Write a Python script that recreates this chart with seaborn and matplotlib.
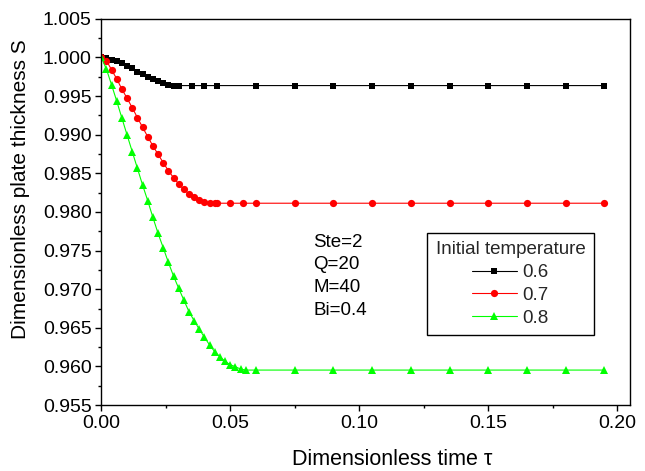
import matplotlib
matplotlib.use("Agg")
import matplotlib.pyplot as plt
from matplotlib.ticker import MultipleLocator, AutoMinorLocator, FormatStrFormatter
import seaborn as sns

# Dimensionless time samples and plate thickness for each initial temperature
t_06 = [0.000, 0.002, 0.004, 0.006, 0.008, 0.010, 0.012, 0.014, 0.016, 0.018,
        0.020, 0.022, 0.024, 0.026, 0.028, 0.030, 0.035, 0.040, 0.045, 0.060,
        0.075, 0.090, 0.105, 0.120, 0.135, 0.150, 0.165, 0.180, 0.195]
s_06 = [1.00000, 0.99990, 0.99970, 0.99950, 0.99926, 0.99891, 0.99861, 0.99817,
        0.99784, 0.99753, 0.99723, 0.99693, 0.99667, 0.99645, 0.99636, 0.99636,
        0.99636, 0.99636, 0.99636, 0.99636, 0.99636, 0.99636, 0.99636, 0.99636,
        0.99636, 0.99636, 0.99636, 0.99636, 0.99636]

t_07 = [0.000, 0.002, 0.004, 0.006, 0.008, 0.010, 0.012, 0.014, 0.016, 0.018,
        0.020, 0.022, 0.024, 0.026, 0.028, 0.030, 0.032, 0.034, 0.036, 0.038,
        0.040, 0.042, 0.044, 0.045, 0.050, 0.055, 0.060, 0.075, 0.090, 0.105,
        0.120, 0.135, 0.150, 0.165, 0.180, 0.195]
s_07 = [1.00000, 0.99960, 0.99839, 0.99723, 0.99589, 0.99472, 0.99350, 0.99222,
        0.99097, 0.98975, 0.98855, 0.98747, 0.98639, 0.98535, 0.98444, 0.98363,
        0.98294, 0.98233, 0.98190, 0.98155, 0.98133, 0.98117, 0.98113, 0.98113,
        0.98113, 0.98113, 0.98113, 0.98113, 0.98113, 0.98113, 0.98113, 0.98113,
        0.98113, 0.98113, 0.98113, 0.98113]

t_08 = [0.000, 0.002, 0.004, 0.006, 0.008, 0.010, 0.012, 0.014, 0.016, 0.018,
        0.020, 0.022, 0.024, 0.026, 0.028, 0.030, 0.032, 0.034, 0.036, 0.038,
        0.040, 0.042, 0.044, 0.046, 0.048, 0.050, 0.052, 0.054, 0.056, 0.060,
        0.075, 0.090, 0.105, 0.120, 0.135, 0.150, 0.165, 0.180, 0.195]
s_08 = [1.00000, 0.99848, 0.99645, 0.99434, 0.99214, 0.98997, 0.98781, 0.98566,
        0.98350, 0.98146, 0.97931, 0.97724, 0.97538, 0.97348, 0.97171, 0.97012,
        0.96860, 0.96709, 0.96592, 0.96481, 0.96377, 0.96277, 0.96190, 0.96126,
        0.96066, 0.96022, 0.95996, 0.95966, 0.95953, 0.95953, 0.95953, 0.95953,
        0.95953, 0.95953, 0.95953, 0.95953, 0.95953, 0.95953, 0.95953]

labels = ["0.6", "0.7", "0.8"]
params_text = "Ste=2\nQ=20\nM=40\nBi=0.4"

sns.set_theme(style="ticks")
plt.rcParams["font.family"] = ["Liberation Sans", "DejaVu Sans"]

fig = plt.figure(figsize=(6.45, 4.71), dpi=100)
ax = fig.add_axes([0.157, 0.140, 0.820, 0.820])

styles = [
    dict(color="black", marker="s", markersize=4.2),
    dict(color="#ff0000", marker="o", markersize=5.2),
    dict(color="#00ff00", marker="^", markersize=5.2),
]
for t, s, lab, st in zip([t_06, t_07, t_08], [s_06, s_07, s_08], labels, styles):
    sns.lineplot(x=t, y=s, ax=ax, label=lab, sort=False, estimator=None,
                 linewidth=0.8, markeredgewidth=0, **st)

ax.set_xlim(0.0, 0.205)
ax.set_ylim(0.955, 1.005)
ax.xaxis.set_major_locator(MultipleLocator(0.05))
ax.xaxis.set_minor_locator(AutoMinorLocator(2))
ax.yaxis.set_major_locator(MultipleLocator(0.005))
ax.yaxis.set_minor_locator(AutoMinorLocator(2))
ax.xaxis.set_major_formatter(FormatStrFormatter("%.2f"))
ax.yaxis.set_major_formatter(FormatStrFormatter("%.3f"))

ax.tick_params(axis="both", which="major", direction="out", length=4, width=1,
               labelsize=14, color="black", labelcolor="black", pad=3)
ax.tick_params(axis="both", which="minor", direction="out", length=2.5, width=1,
               color="black")
for sp in ax.spines.values():
    sp.set_visible(True)
    sp.set_color("black")
    sp.set_linewidth(1.0)

ax.set_xlabel("Dimensionless time τ", fontsize=15.5, color="black")
ax.set_ylabel("Dimensionless plate thickness S", fontsize=15, color="black")
ax.xaxis.set_label_coords(0.55, -0.114)
ax.yaxis.set_label_coords(-0.134, 0.56)

ax.text(0.0822, 0.9772, params_text, fontsize=13.5, va="top", ha="left",
        linespacing=1.45, color="black")

handles, labs = ax.get_legend_handles_labels()
leg = ax.legend(handles, labs, title="Initial temperature", loc="upper left",
                bbox_to_anchor=(0.616, 0.4456), fontsize=13.5,
                title_fontsize=13.5, frameon=True, fancybox=False,
                edgecolor="black", framealpha=1, handlelength=2.4,
                handletextpad=0.3, labelspacing=0.3, borderpad=0.45,
                borderaxespad=0)
leg.get_frame().set_linewidth(1.0)

fig.savefig("out.png", dpi=100)
